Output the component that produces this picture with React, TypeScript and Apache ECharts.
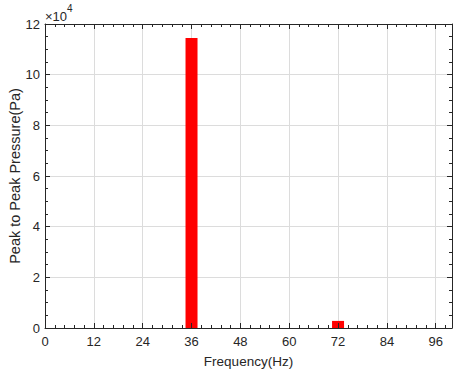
import React, { useEffect, useRef } from "react";
import * as echarts from "echarts";

const frequencies = [36, 72];
const pressures = [114500, 2800];
const xTickValues = [0, 12, 24, 36, 48, 60, 72, 84, 96];
const yTickLabels = ["0", "2", "4", "6", "8", "10", "12"];

const FONT = "Liberation Sans, Arial, sans-serif";

export default function App() {
  const ref = useRef<HTMLDivElement>(null);
  useEffect(() => {
    if (!ref.current) return;
    const chart = echarts.init(ref.current, undefined, { renderer: "svg" });
    const axisLine = { show: true, onZero: false, lineStyle: { color: "#262626", width: 1 } };
    const tickStyle = { color: "#262626", width: 1 };
    const baseX = {
      type: "value" as const,
      min: 0,
      max: 100,
      interval: 12,
    };
    const baseY = {
      type: "value" as const,
      min: 0,
      max: 120000,
      interval: 20000,
    };
    chart.setOption({
      animation: false,
      backgroundColor: "#ffffff",
      grid: { left: 45, right: 3, top: 24, bottom: 43, containLabel: false, outerBoundsMode: "none" },
      graphic: [
        {
          type: "text",
          left: 45,
          top: 3,
          style: {
            text: "{a|×10}{b|4}",
            rich: {
              a: { fontSize: 13, fontFamily: FONT, fill: "#262626", padding: [7, 0, 0, 0] },
              b: { fontSize: 10, fontFamily: FONT, fill: "#262626", verticalAlign: "top" },
            },
          },
        },
      ],
      xAxis: [
        {
          ...baseX,
          position: "bottom",
          name: "Frequency(Hz)",
          nameLocation: "middle",
          nameGap: 26,
          nameMoveOverlap: false,
          nameTextStyle: { fontSize: 13.5, fontFamily: FONT, color: "#262626" },
          axisLine: { show: false },
          axisTick: { show: false },
          axisLabel: {
            margin: 7,
            fontSize: 13,
            fontFamily: FONT,
            color: "#262626",
            showMaxLabel: false,
            formatter: (v: number) => (xTickValues.includes(v) ? String(v) : ""),
          },
          splitLine: { show: true, lineStyle: { color: "#dcdcdc", width: 1 } },
          minorTick: { show: false },
        },
        {
          ...baseX,
          position: "bottom",
          z: 5,
          axisLine,
          axisTick: { show: true, inside: true, length: 5, lineStyle: tickStyle },
          minorTick: { show: true, splitNumber: 5, length: 3, lineStyle: tickStyle },
          axisLabel: { show: false },
          splitLine: { show: false },
        },
        {
          ...baseX,
          position: "top",
          z: 5,
          axisLine,
          axisTick: { show: true, inside: true, length: 5, lineStyle: tickStyle },
          minorTick: { show: true, splitNumber: 5, length: 3, lineStyle: tickStyle },
          axisLabel: { show: false },
          splitLine: { show: false },
        },
      ],
      yAxis: [
        {
          ...baseY,
          position: "left",
          name: "Peak to Peak Pressure(Pa)",
          nameLocation: "middle",
          nameGap: 23,
          nameMoveOverlap: false,
          nameTextStyle: { fontSize: 14.5, fontFamily: FONT, color: "#262626" },
          axisLine: { show: false },
          axisTick: { show: false },
          axisLabel: {
            margin: 5,
            fontSize: 13,
            fontFamily: FONT,
            color: "#262626",
            formatter: (v: number) => yTickLabels[Math.round(v / 20000)] ?? "",
          },
          splitLine: { show: true, lineStyle: { color: "#dcdcdc", width: 1 } },
        },
        {
          ...baseY,
          position: "left",
          z: 5,
          axisLine,
          axisTick: { show: true, inside: true, length: 5, lineStyle: tickStyle },
          minorTick: { show: true, splitNumber: 4, length: 3, lineStyle: tickStyle },
          axisLabel: { show: false },
          splitLine: { show: false },
        },
        {
          ...baseY,
          position: "right",
          z: 5,
          axisLine,
          axisTick: { show: true, inside: true, length: 5, lineStyle: tickStyle },
          minorTick: { show: true, splitNumber: 4, length: 3, lineStyle: tickStyle },
          axisLabel: { show: false },
          splitLine: { show: false },
        },
      ],
      series: [
        {
          type: "bar",
          xAxisIndex: 0,
          yAxisIndex: 0,
          barWidth: 12,
          itemStyle: { color: "#ff0000" },
          data: frequencies.map((f, i) => [f, pressures[i]]),
        },
      ],
    });
    return () => chart.dispose();
  }, []);
  return (
    <div
      ref={ref}
      style={{ position: "fixed", left: 0, top: 0, width: 455, height: 371 }}
    />
  );
}
